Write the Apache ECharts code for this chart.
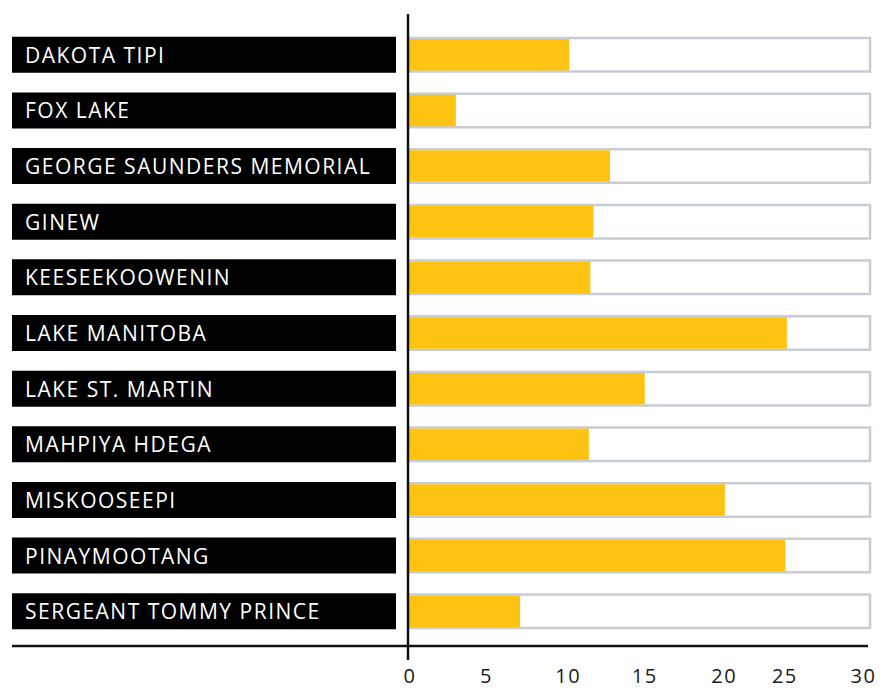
<!DOCTYPE html>
<html>
<head>
<meta charset="utf-8">
<script src="https://cdn.jsdelivr.net/npm/echarts@6/dist/echarts.min.js"></script>
<style>
  html, body { margin: 0; padding: 0; background: #fff; }
  #chart { width: 884px; height: 688px; }
  /* tracked-out lettering for the labels */
  #chart svg text { letter-spacing: 1.5px; }
</style>
</head>
<body>
<div id="chart"></div>
<script>
// Communities and their values (0–30 scale)
const categories = [
  'DAKOTA TIPI',
  'FOX LAKE',
  'GEORGE SAUNDERS MEMORIAL',
  'GINEW',
  'KEESEEKOOWENIN',
  'LAKE MANITOBA',
  'LAKE ST. MARTIN',
  'MAHPIYA HDEGA',
  'MISKOOSEEPI',
  'PINAYMOOTANG',
  'SERGEANT TOMMY PRINCE'
];
const values = [10.6, 3.1, 13.3, 12.2, 12.0, 25.0, 15.6, 11.9, 20.9, 24.9, 7.35];
const tickLabels = [0, 5, 10, 15, 20, 25, 30];

// small horizontal nudges for a few tick labels
const labelNudge = { 0: 1, 5: 2, 10: 8, 15: 9, 20: 13, 25: -2, 30: 1 };

const FONT = '"Open Sans", "Noto Sans", sans-serif';

const rich = {};
tickLabels.forEach(function (t) {
  const n = labelNudge[t] || 0;
  rich['t' + t] = {
    fontFamily: FONT,
    fontSize: 20,
    lineHeight: 16,
    color: '#1a1a1a',
    padding: n >= 0 ? [0, 0, 0, 2 * n] : [0, -2 * n, 0, 0]
  };
});

const chart = echarts.init(document.getElementById('chart'), null, { renderer: 'svg' });

chart.setOption({
  animation: false,
  backgroundColor: '#fff',
  grid: { left: 409, right: 14, top: 27, bottom: 49, containLabel: false },
  xAxis: {
    type: 'value',
    min: 0,
    max: 30.5,
    interval: 5,
    axisLine: { show: false },
    axisTick: { show: false },
    splitLine: { show: false },
    axisLabel: {
      margin: 28,
      lineHeight: 16,
      formatter: function (v) {
        return tickLabels.indexOf(v) >= 0 ? '{t' + v + '|' + v + '}' : '';
      },
      rich: rich
    }
  },
  yAxis: [
    {
      type: 'category',
      inverse: true,
      data: categories,
      axisLine: { show: false },
      axisTick: { show: false },
      axisLabel: {
        align: 'left',
        margin: 397,
        backgroundColor: '#000',
        color: '#fff',
        fontFamily: FONT,
        fontSize: 21,
        width: 371,
        height: 36,
        lineHeight: 36,
        padding: [0, 0, 0, 13],
        overflow: 'none'
      }
    },
    {
      type: 'category',
      inverse: true,
      data: categories,
      show: false
    }
  ],
  series: [
    {
      // track behind each bar
      type: 'bar',
      yAxisIndex: 1,
      data: values,
      barWidth: 33.5,
      silent: true,
      itemStyle: { color: 'rgba(0,0,0,0)' },
      showBackground: true,
      backgroundStyle: { color: '#fff', borderColor: '#c8ccd3', borderWidth: 2.5 },
      z: 1
    },
    {
      type: 'bar',
      yAxisIndex: 0,
      data: values,
      barWidth: 31.5,
      itemStyle: { color: '#ffc312' },
      z: 3
    }
  ]
});

// axis rules: vertical baseline at zero and the horizontal rule under the rows
const x0 = chart.convertToPixel({ xAxisIndex: 0 }, 0);
chart.setOption({
  graphic: [
    {
      type: 'line',
      shape: { x1: x0 - 1, y1: 14, x2: x0 - 1, y2: 660 },
      style: { stroke: '#111', lineWidth: 2.5 },
      z: 10
    },
    {
      type: 'line',
      shape: { x1: 12, y1: 646, x2: 868, y2: 646 },
      style: { stroke: '#111', lineWidth: 2.5 },
      z: 10
    }
  ]
});
</script>
</body>
</html>
